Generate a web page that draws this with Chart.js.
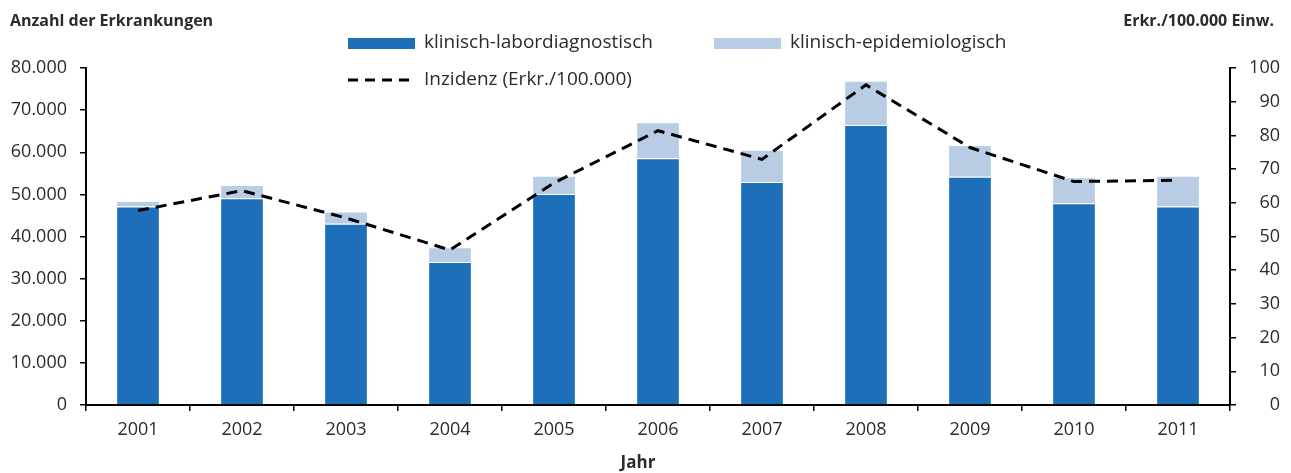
<!DOCTYPE html>
<html><head><meta charset="utf-8">
<script src="https://cdn.jsdelivr.net/npm/chart.js@4/dist/chart.umd.min.js"></script>
<style>html,body{margin:0;padding:0;background:#fff}#wrap{width:1291px;height:473px;position:relative}</style>
</head><body><div id="wrap"><canvas id="c" width="1291" height="473"></canvas></div>
<script>
const years = ['2001','2002','2003','2004','2005','2006','2007','2008','2009','2010','2011'];
const laborValues = [47100, 49100, 43000, 33950, 50100, 58600, 52950, 66450, 54200, 47900, 47100];
const epiValues = [1350, 3100, 2950, 3500, 4300, 8500, 7650, 10550, 7500, 6150, 7350];
const incidence = [57.7, 63.6, 55.5, 46.0, 65.9, 81.4, 72.9, 95.0, 76.4, 66.3, 66.7];
const leftTicks = [0,10000,20000,30000,40000,50000,60000,70000,80000];
const rightTicks = [0,10,20,30,40,50,60,70,80,90,100];

const FONT = "'Open Sans', 'Noto Sans', sans-serif";
const TXT = '#2b2b2b';
const BLUE = '#1c6fb8';
const LIGHT = '#b8cce4';

const fmt = v => v === 0 ? '0' : v.toLocaleString('de-DE');

const overlay = {
  id: 'overlay',
  afterDraw(chart) {
    const ctx = chart.ctx;
    ctx.save();
    ctx.fillStyle = TXT;
    ctx.textBaseline = 'middle';
    ctx.font = "bold 16px " + FONT;
    ctx.textAlign = 'left';
    ctx.fillText('Anzahl der Erkrankungen', 10, 21);
    ctx.textAlign = 'right';
    ctx.fillText('Erkr./100.000 Einw.', 1274, 21);
    ctx.textAlign = 'center';
    ctx.font = "bold 17px " + FONT;
    ctx.fillText('Jahr', 638, 463);
    // legend
    ctx.font = "19px " + FONT;
    ctx.textAlign = 'left';
    ctx.fillStyle = BLUE; ctx.fillRect(348, 38, 67, 11);
    ctx.fillStyle = TXT; ctx.fillText('klinisch-labordiagnostisch', 424, 43);
    ctx.fillStyle = LIGHT; ctx.fillRect(714, 38, 67, 11);
    ctx.fillStyle = TXT; ctx.fillText('klinisch-epidemiologisch', 790, 43);
    ctx.strokeStyle = '#000'; ctx.lineWidth = 3; ctx.setLineDash([10,7]);
    ctx.beginPath(); ctx.moveTo(348, 80); ctx.lineTo(414, 80); ctx.stroke();
    ctx.setLineDash([]);
    ctx.fillText('Inzidenz (Erkr./100.000)', 424, 80);
    ctx.restore();
  }
};

new Chart(document.getElementById('c'), {
  data: {
    labels: years,
    datasets: [
      { type: 'line', label: 'Inzidenz (Erkr./100.000)', data: incidence, yAxisID: 'y1',
        borderColor: '#000', borderWidth: 3, borderDash: [11,7], pointRadius: 0, tension: 0, fill: false, order: 0 },
      { type: 'bar', label: 'klinisch-labordiagnostisch', data: laborValues, yAxisID: 'y',
        backgroundColor: BLUE, borderColor: '#ffffff', borderWidth: 1, barPercentage: 0.42, categoryPercentage: 1, stack: 's', order: 1 },
      { type: 'bar', label: 'klinisch-epidemiologisch', data: epiValues, yAxisID: 'y',
        backgroundColor: LIGHT, borderColor: '#ffffff', borderWidth: 1, barPercentage: 0.42, categoryPercentage: 1, stack: 's', order: 1 }
    ]
  },
  options: {
    responsive: false, animation: false, devicePixelRatio: 1,
    layout: { padding: { top: 68, left: 0, right: 11, bottom: 0 } },
    plugins: { legend: { display: false }, tooltip: { enabled: false } },
    scales: {
      x: {
        stacked: true, offset: true,
        grid: { offset: true, drawOnChartArea: false, drawTicks: true, tickLength: 6, color: '#000', lineWidth: 1.5 },
        border: { display: true, color: '#000', width: 2 },
        ticks: { color: TXT, font: { family: FONT, size: 18 }, padding: 8 },
        afterFit(s) { s.height = 68; }
      },
      y: {
        position: 'left', stacked: true, min: 0, max: 80000,
        grid: { drawOnChartArea: false, drawTicks: true, tickLength: 6, color: '#000', lineWidth: 1.5 },
        border: { display: true, color: '#000', width: 2 },
        afterBuildTicks(s) { s.ticks = leftTicks.map(v => ({ value: v })); },
        ticks: { color: TXT, font: { family: FONT, size: 18 }, padding: 13, callback: v => fmt(v) },
        afterFit(s) { s.width = 86; }
      },
      y1: {
        position: 'right', min: 0, max: 100,
        grid: { drawOnChartArea: false, drawTicks: true, tickLength: 6, color: '#000', lineWidth: 1.5 },
        border: { display: true, color: '#000', width: 2 },
        afterBuildTicks(s) { s.ticks = rightTicks.map(v => ({ value: v })); },
        ticks: { color: TXT, font: { family: FONT, size: 18 }, padding: 10, crossAlign: 'far' },
        afterFit(s) { s.width = 50; }
      }
    }
  },
  plugins: [overlay]
});
</script></body></html>
